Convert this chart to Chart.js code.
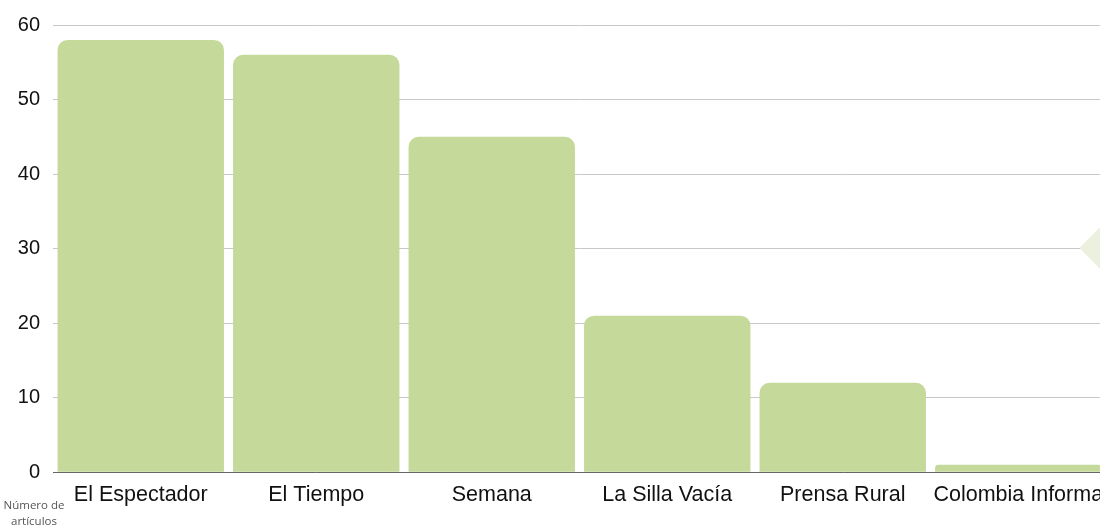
<!DOCTYPE html>
<html>
<head>
<meta charset="utf-8">
<script src="https://cdn.jsdelivr.net/npm/chart.js@4"></script>
<style>
  html, body { margin: 0; padding: 0; background: #fff; overflow: hidden; width: 1100px; height: 525px; }
  #wrap { position: relative; width: 1106px; height: 525px; }
  #note { position: absolute; left: 0; top: 497px; width: 68px; text-align: center; font-family: "Open Sans", sans-serif; font-size: 11.5px; line-height: 16px; color: #555; }
  #diamond { position: absolute; left: 1086px; top: 232px; width: 32px; height: 32px; background: #ebf1de; transform: rotate(45deg); }
</style>
</head>
<body>
<div id="wrap">
  <canvas id="c" width="1106" height="525"></canvas>
  <div id="diamond"></div>
  <div id="note">Número de artículos</div>
</div>
<script>
const categories = ["El Espectador", "El Tiempo", "Semana", "La Silla Vacía", "Prensa Rural", "Colombia Informa"];
const articles = [58, 56, 45, 21, 12, 1];
const yTicks = [0, 10, 20, 30, 40, 50, 60];

new Chart(document.getElementById('c'), {
  type: 'bar',
  data: {
    labels: categories,
    datasets: [{
      data: articles,
      backgroundColor: '#c4d99a',
      borderRadius: { topLeft: 10, topRight: 10, bottomLeft: 0, bottomRight: 0 },
      borderSkipped: 'bottom',
      barPercentage: 0.948,
      categoryPercentage: 1.0
    }]
  },
  options: {
    responsive: false,
    animation: false,
    layout: { padding: { top: 11, right: 0, bottom: 7, left: 0 } },
    plugins: { legend: { display: false }, tooltip: { enabled: false } },
    scales: {
      x: {
        afterFit: (s) => { s.paddingRight = 0; s.paddingLeft = 0; },
        grid: { display: false, drawTicks: false },
        border: { display: true, color: '#666', width: 1 },
        ticks: { color: '#111', font: { family: 'Liberation Sans, Arial, sans-serif', size: 21.5 }, padding: 10, maxRotation: 0, autoSkip: false }
      },
      y: {
        min: 0, max: 60,
        afterBuildTicks: (s) => { s.ticks = yTicks.map(v => ({ value: v })); },
        afterFit: (s) => { s.width = 53; },
        grid: { color: '#c8c8c8', drawTicks: false, lineWidth: 1 },
        border: { display: false },
        ticks: { color: '#111', font: { family: 'Liberation Sans, Arial, sans-serif', size: 20 }, padding: 13 }
      }
    }
  }
});
</script>
</body>
</html>
